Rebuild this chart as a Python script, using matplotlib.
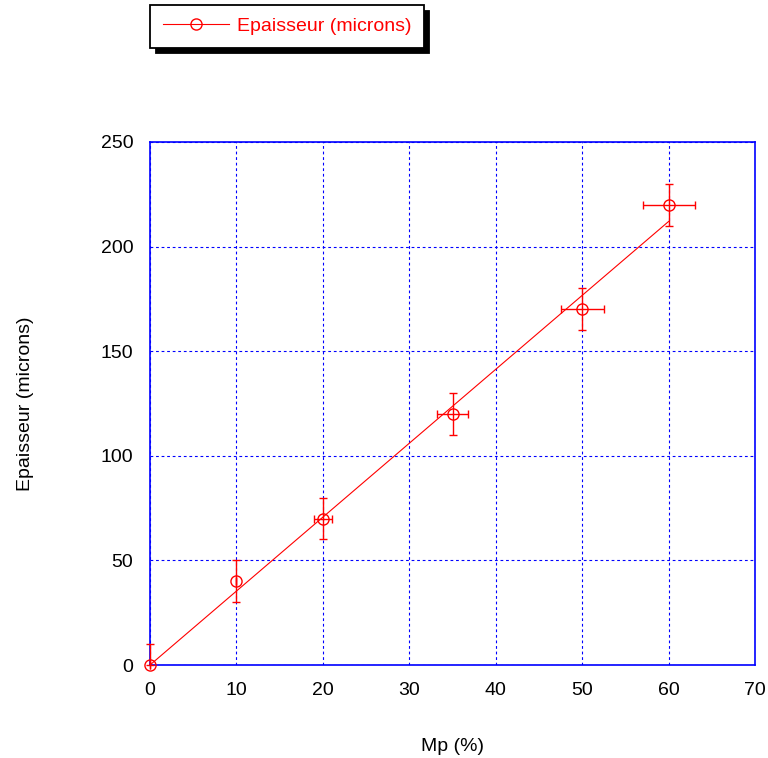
import numpy as np
import matplotlib.pyplot as plt
from matplotlib.lines import Line2D

plt.rcParams['font.family'] = ['Liberation Sans', 'DejaVu Sans']

# mesures
mp = [0, 10, 20, 35, 50, 60]
epaisseur = [0, 40, 70, 120, 170, 220]
err_y = [10, 10, 10, 10, 10, 10]
err_x = [0, 0, 1, 1.75, 2.5, 3]
# droite d'ajustement
fit_x = [0, 60]
fit_y = [0, 212]

fig = plt.figure(figsize=(7.68, 7.58), dpi=100)
ax = fig.add_axes([150/768, 1-665/758, 605/768, 523/758])

ax.plot(fit_x, fit_y, color='red', linewidth=0.8, zorder=3)
# pas de barre négative en dessous de 0
lower = [min(e, v) for e, v in zip(err_y, epaisseur)]
ax.errorbar(mp, epaisseur, yerr=[lower, err_y], xerr=err_x, fmt='o', mfc='none',
            mec='red', ecolor='red', markersize=8, elinewidth=1, capsize=3,
            capthick=1, zorder=4, clip_on=False)

ax.set_xlim(0, 70)
ax.set_ylim(0, 250)
ax.set_xticks(range(0, 71, 10))
ax.set_yticks(range(0, 251, 50))
ax.grid(True, color='blue', linestyle=(0, (2.5, 2.5)), linewidth=0.8)
for s in ax.spines.values():
    s.set_color('blue')
    s.set_linewidth(1.2)
ax.tick_params(length=0, labelsize=14, pad=12)

ax.set_xlabel('Mp (%)', fontsize=14, labelpad=28)
ax.set_ylabel('Epaisseur (microns)', fontsize=14, labelpad=48)

handle = Line2D([], [], color='red', linewidth=0.8, marker='o', mfc='none',
                mec='red', markersize=8)
leg = fig.legend([handle], ['Epaisseur (microns)'], loc='upper left',
                 bbox_to_anchor=(150/768, 1-5/758), borderaxespad=0,
                 fontsize=14, fancybox=False,
                 edgecolor='black', framealpha=1, handlelength=3.4,
                 handletextpad=0.4, borderpad=0.65,
                 shadow={'color': 'black', 'alpha': 1, 'ox': 4, 'oy': -4})
leg.get_frame().set_linewidth(1.3)
for t in leg.get_texts():
    t.set_color('red')

fig.savefig('out.png', dpi=100)
